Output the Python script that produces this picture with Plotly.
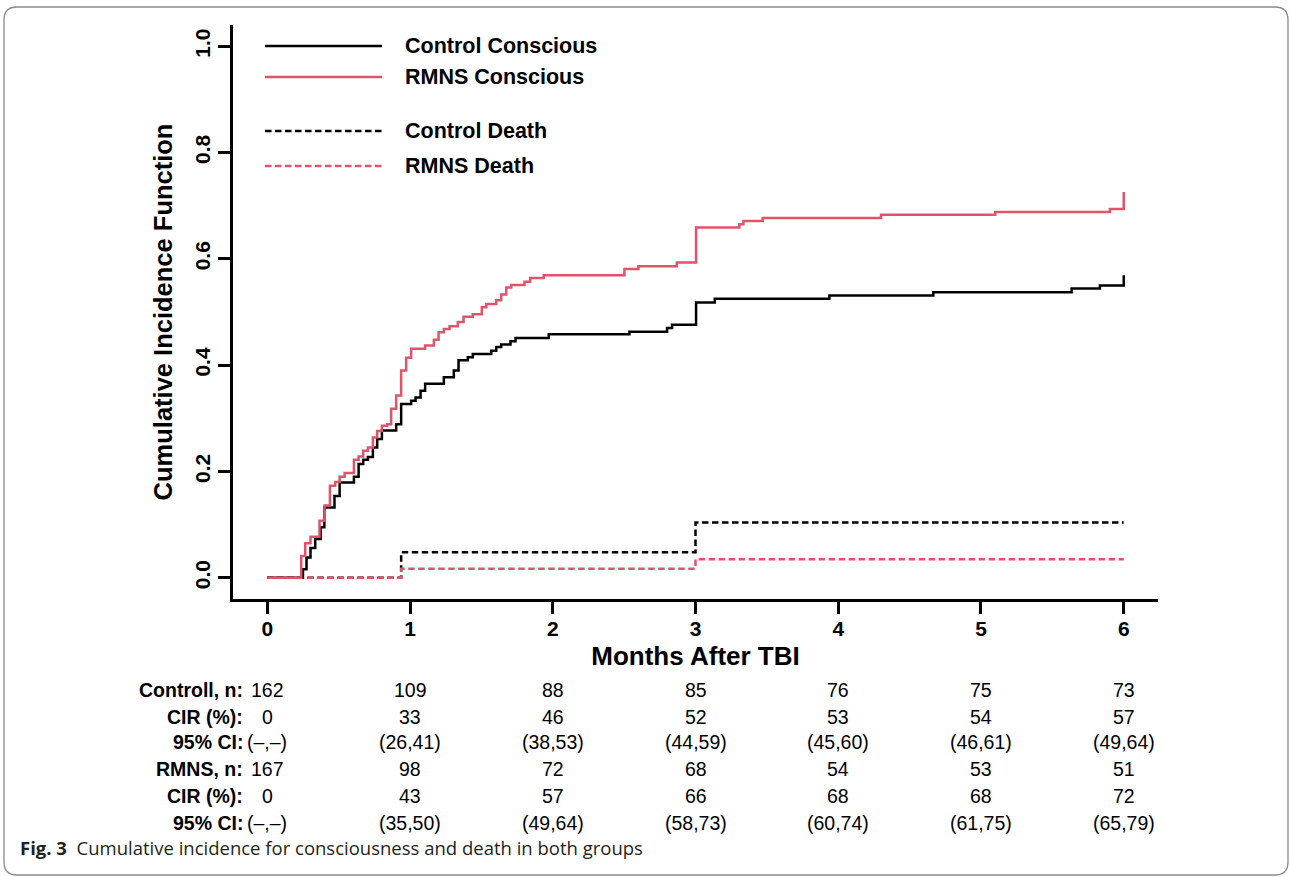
import plotly.graph_objects as go

# ---------------- data ----------------
ctrl_cons_t = [0, 0.25, 0.275, 0.303, 0.336, 0.374, 0.40, 0.471, 0.507, 0.607,
               0.64, 0.672, 0.705, 0.74, 0.77, 0.803, 0.903, 0.938, 1.008, 1.039,
               1.074, 1.106, 1.237, 1.307, 1.34, 1.405, 1.44, 1.569, 1.604, 1.639,
               1.704, 1.739, 1.972, 2.537, 2.801, 2.836, 3.004, 3.135, 3.938, 4.666,
               5.635, 5.833, 6.0]
ctrl_cons_v = [0, 0.016, 0.038, 0.056, 0.073, 0.095, 0.132, 0.154, 0.179, 0.19,
               0.214, 0.222, 0.227, 0.245, 0.261, 0.277, 0.289, 0.327, 0.333, 0.339,
               0.352, 0.365, 0.377, 0.39, 0.409, 0.415, 0.421, 0.427, 0.434, 0.439,
               0.445, 0.451, 0.458, 0.463, 0.47, 0.476, 0.518, 0.525, 0.531, 0.537,
               0.544, 0.55, 0.569]

rmns_cons_t = [0, 0.238, 0.266, 0.303, 0.366, 0.401, 0.439, 0.476, 0.507, 0.542,
               0.607, 0.64, 0.672, 0.705, 0.74, 0.77, 0.803, 0.84, 0.868, 0.903,
               0.938, 0.973, 1.008, 1.106, 1.167, 1.2, 1.237, 1.277, 1.335, 1.375,
               1.44, 1.503, 1.534, 1.604, 1.639, 1.674, 1.709, 1.802, 1.842, 1.937,
               2.502, 2.6, 2.869, 3.004, 3.307, 3.336, 3.471, 4.3, 5.1, 5.903, 6.0]
rmns_cons_v = [0, 0.041, 0.065, 0.077, 0.107, 0.136, 0.173, 0.18, 0.19, 0.197,
               0.222, 0.228, 0.239, 0.245, 0.264, 0.276, 0.286, 0.289, 0.318, 0.343,
               0.39, 0.414, 0.431, 0.437, 0.448, 0.462, 0.468, 0.473, 0.481, 0.491,
               0.496, 0.509, 0.515, 0.522, 0.533, 0.546, 0.551, 0.557, 0.564, 0.569,
               0.581, 0.586, 0.593, 0.659, 0.665, 0.671, 0.677, 0.683, 0.688, 0.694,
               0.726]

ctrl_death_t = [0, 0.938, 3.0, 6.0]
ctrl_death_v = [0, 0.048, 0.104, 0.104]
rmns_death_t = [0, 0.938, 3.0, 6.0]
rmns_death_v = [0, 0.017, 0.035, 0.035]

table_times = [0, 1, 2, 3, 4, 5, 6]
row_labels = ["Controll, n:", "CIR (%):", "95% CI:", "RMNS, n:", "CIR (%):", "95% CI:"]
control_n = [162, 109, 88, 85, 76, 75, 73]
control_cir = [0, 33, 46, 52, 53, 54, 57]
control_ci = ["(\u2013,\u2013)", "(26,41)", "(38,53)", "(44,59)", "(45,60)", "(46,61)", "(49,64)"]
rmns_n = [167, 98, 72, 68, 54, 53, 51]
rmns_cir = [0, 43, 57, 66, 68, 68, 72]
rmns_ci = ["(\u2013,\u2013)", "(35,50)", "(49,64)", "(58,73)", "(60,74)", "(61,75)", "(65,79)"]

legend_names = ["Control Conscious", "RMNS Conscious", "Control Death", "RMNS Death"]
caption_bold = "Fig. 3"
caption_text = "Cumulative incidence for consciousness and death in both groups"

# ---------------- layout constants ----------------
W, H = 1290, 877
ML, MR, MT, MB = 233, 132, 25, 278
PW, PH = W - ML - MR, H - MT - MB
BLACK = "#000000"
RED = "#DF536B"
FONT = "Liberation Sans"
DASH = "6.5px,3.5px"


def px_x(px):
    return (px - ML) / PW


def px_y(py):
    return (H - MB - py) / PH


fig = go.Figure()

series = [
    (ctrl_death_t, ctrl_death_v, BLACK, DASH, legend_names[2]),
    (rmns_death_t, rmns_death_v, RED, DASH, legend_names[3]),
    (ctrl_cons_t, ctrl_cons_v, BLACK, "solid", legend_names[0]),
    (rmns_cons_t, rmns_cons_v, RED, "solid", legend_names[1]),
]
for t, v, c, d, n in series:
    fig.add_trace(go.Scatter(x=t, y=v, mode="lines", name=n, showlegend=False,
                             line=dict(color=c, width=2.5, dash=d, shape="hv")))

# ---------------- manual legend (R style) ----------------
legend_rows = [
    (legend_names[0], BLACK, "solid", 46),
    (legend_names[1], RED, "solid", 77),
    (legend_names[2], BLACK, DASH, 131),
    (legend_names[3], RED, DASH, 166),
]
shapes = []
annotations = []
for name, col, dash, py in legend_rows:
    shapes.append(dict(type="line", xref="paper", yref="paper",
                       x0=px_x(265), x1=px_x(382), y0=px_y(py), y1=px_y(py),
                       line=dict(color=col, width=2.5, dash=dash)))
    annotations.append(dict(xref="paper", yref="paper", x=px_x(403), y=px_y(py),
                            text=name, showarrow=False, xanchor="left", yanchor="middle",
                            font=dict(family=FONT, size=21.5, color="black", weight="bold")))

# ---------------- risk table ----------------
row_values = [control_n, control_cir, control_ci, rmns_n, rmns_cir, rmns_ci]
row_py = [690, 716.5, 742, 769, 796.5, 823]
for lab, vals, py in zip(row_labels, row_values, row_py):
    annotations.append(dict(xref="paper", yref="paper", x=px_x(245), y=px_y(py),
                            text=lab, showarrow=False, xanchor="right", yanchor="middle",
                            font=dict(family=FONT, size=19.5, color="black", weight="bold")))
    for tt, val in zip(table_times, vals):
        annotations.append(dict(xref="x", yref="paper", x=tt, y=px_y(py),
                                text=str(val), showarrow=False, xanchor="center",
                                yanchor="middle",
                                font=dict(family=FONT, size=19.5, color="black")))

# ---------------- caption ----------------
annotations.append(dict(xref="paper", yref="paper", x=px_x(18), y=px_y(848),
                        text="<b>" + caption_bold + "</b>&nbsp;&nbsp;" + caption_text,
                        showarrow=False, xanchor="left", yanchor="middle",
                        font=dict(family="Open Sans", size=18.5, color="#231f20")))

# ---------------- outer rounded frame ----------------
x0, x1, y0, y1, r = 4, 1288, 7, 875, 13


def P(px, py):
    return f"{px_x(px):.6f},{px_y(py):.6f}"


frame_path = (f"M{P(x0 + r, y0)} L{P(x1 - r, y0)} Q{P(x1, y0)} {P(x1, y0 + r)} "
              f"L{P(x1, y1 - r)} Q{P(x1, y1)} {P(x1 - r, y1)} "
              f"L{P(x0 + r, y1)} Q{P(x0, y1)} {P(x0, y1 - r)} "
              f"L{P(x0, y0 + r)} Q{P(x0, y0)} {P(x0 + r, y0)} Z")
shapes.append(dict(type="path", xref="paper", yref="paper", path=frame_path,
                   line=dict(color="#8a8a8a", width=1.3), layer="below"))

fig.update_layout(
    width=W, height=H,
    margin=dict(l=ML, r=MR, t=MT, b=MB, pad=0),
    paper_bgcolor="white", plot_bgcolor="white",
    shapes=shapes, annotations=annotations,
    xaxis=dict(range=[-0.24, 6.24], tickmode="array", tickvals=table_times,
               ticktext=[str(t) for t in table_times],
               showline=True, linecolor="black", linewidth=2.5,
               ticks="outside", ticklen=12, tickwidth=2.5, tickcolor="black",
               ticklabelstandoff=-3,
               showgrid=False, zeroline=False,
               tickfont=dict(family=FONT, size=21, color="black", weight="bold"),
               title=dict(text="Months After TBI", standoff=8,
                          font=dict(family=FONT, size=26, color="black", weight="bold"))),
    yaxis=dict(range=[-0.04, 1.04], tickmode="array",
               tickvals=[0, 0.2, 0.4, 0.6, 0.8, 1.0],
               ticktext=["0.0", "0.2", "0.4", "0.6", "0.8", "1.0"],
               tickangle=-90,
               showline=True, linecolor="black", linewidth=2.5,
               ticks="outside", ticklen=12, tickwidth=2.5, tickcolor="black",
               showgrid=False, zeroline=False,
               tickfont=dict(family=FONT, size=21, color="black", weight="bold"),
               title=dict(text="Cumulative Incidence Function", standoff=11,
                          font=dict(family=FONT, size=25.5, color="black", weight="bold"))),
)

fig.write_html("out.html")
